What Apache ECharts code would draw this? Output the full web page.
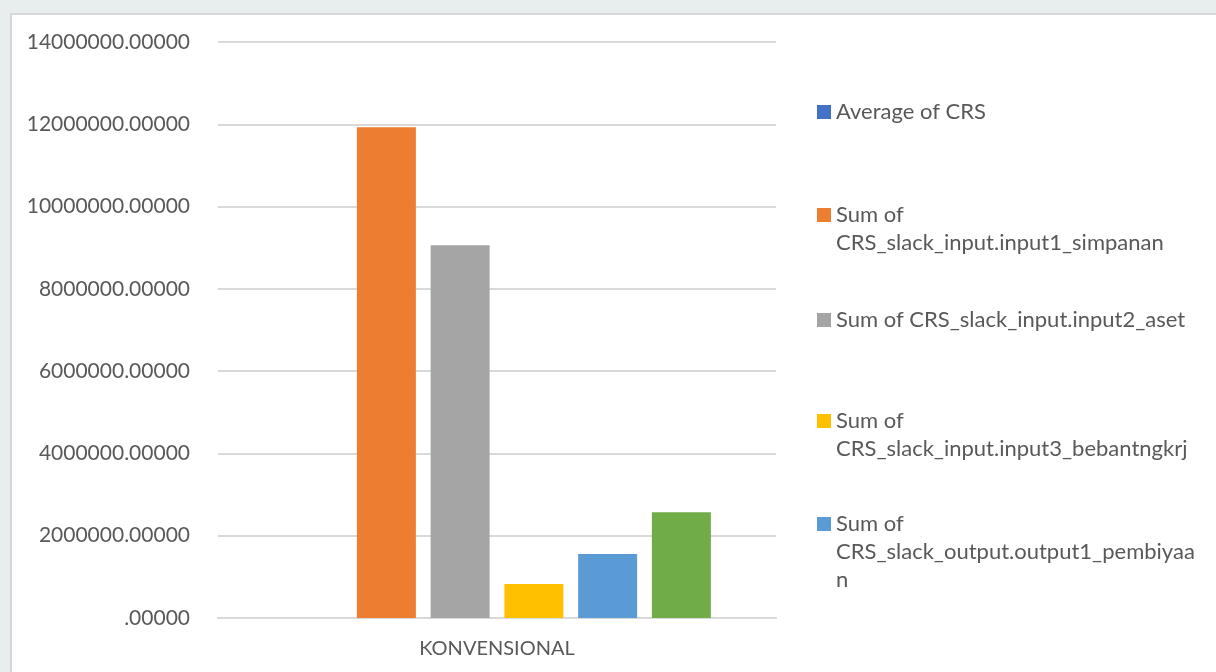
<!DOCTYPE html>
<html>
<head>
<meta charset="utf-8">
<script src="https://cdn.jsdelivr.net/npm/echarts@6/dist/echarts.min.js"></script>
<style>
  html, body { margin: 0; padding: 0; width: 1216px; height: 672px; overflow: hidden; background: #e8eded; }
  #frame { position: absolute; left: 10px; top: 13px; width: 1230px; height: 690px; background: #fff; border: 2px solid #d6d8d8; }
  #chart { position: absolute; left: 0; top: 0; width: 1216px; height: 672px; }
</style>
</head>
<body>
<div id="frame"></div>
<div id="chart"></div>
<script>
// Category and series
const categories = ['KONVENSIONAL'];
const seriesNames = [
  'Average of CRS',
  'Sum of CRS_slack_input.input1_simpanan',
  'Sum of CRS_slack_input.input2_aset',
  'Sum of CRS_slack_input.input3_bebantngkrj',
  'Sum of CRS_slack_output.output1_pembiyaan',
  'Sum of CRS_slack_output.output2'
];
const avgCRS = [0.9];
const slackInput1 = [11930000];
const slackInput2 = [9057000];
const slackInput3 = [828000];
const slackOutput1 = [1558000];
const slackOutput2 = [2570000];
const seriesColors = ['#4472C4', '#ED7D31', '#A5A5A5', '#FFC000', '#5B9BD5', '#70AD47'];

// How each legend entry wraps
const legendLines = {
  'Average of CRS': ['Average of CRS'],
  'Sum of CRS_slack_input.input1_simpanan': ['Sum of', 'CRS_slack_input.input1_simpanan'],
  'Sum of CRS_slack_input.input2_aset': ['Sum of CRS_slack_input.input2_aset'],
  'Sum of CRS_slack_input.input3_bebantngkrj': ['Sum of', 'CRS_slack_input.input3_bebantngkrj'],
  'Sum of CRS_slack_output.output1_pembiyaan': ['Sum of', 'CRS_slack_output.output1_pembiyaa', 'n']
};
// centre of the first text line of each entry
const legendRowY = [112, 215, 320, 421, 524];

const FONT = 'Lato';
const TEXT = '#595959';
const LH = 28;

const allData = [avgCRS, slackInput1, slackInput2, slackInput3, slackOutput1, slackOutput2];

// Blank lines above the text keep the marker level with the first line
const legends = Object.keys(legendLines).map((name, i) => {
  const n = legendLines[name].length;
  return {
    data: [name],
    left: 817,
    top: legendRowY[i] - (2 * n - 1) * LH / 2,
    orient: 'vertical',
    icon: 'rect',
    itemWidth: 14,
    itemHeight: 14,
    padding: 0,
    selectedMode: false,
    formatter: (nm) => {
      const lines = legendLines[nm];
      return new Array(lines.length - 1).fill(' ').concat(lines).join('\n');
    },
    textStyle: { fontFamily: FONT, fontSize: 22, color: TEXT, lineHeight: LH }
  };
});

const chart = echarts.init(document.getElementById('chart'));
chart.setOption({
  animation: false,
  backgroundColor: 'transparent',
  legend: legends,
  grid: { left: 218, right: 440, top: 42, bottom: 54, containLabel: false },
  xAxis: {
    type: 'category',
    data: categories,
    axisLine: { show: true, lineStyle: { color: '#d9d9d9', width: 2 } },
    axisTick: { show: false },
    axisLabel: { fontFamily: FONT, fontSize: 20, color: TEXT, margin: 21 }
  },
  yAxis: {
    type: 'value',
    min: 0,
    max: 14000000,
    interval: 2000000,
    axisLine: { show: false },
    axisTick: { show: false },
    splitLine: { lineStyle: { color: '#d9d9d9', width: 2 } },
    axisLabel: {
      fontFamily: FONT, fontSize: 21, color: TEXT, margin: 28,
      formatter: (v) => v === 0 ? '.00000' : v.toFixed(5)
    }
  },
  series: seriesNames.map((name, i) => ({
    name: name,
    type: 'bar',
    data: allData[i],
    barWidth: 59,
    barGap: '25%',
    itemStyle: { color: seriesColors[i] }
  }))
});
</script>
</body>
</html>
